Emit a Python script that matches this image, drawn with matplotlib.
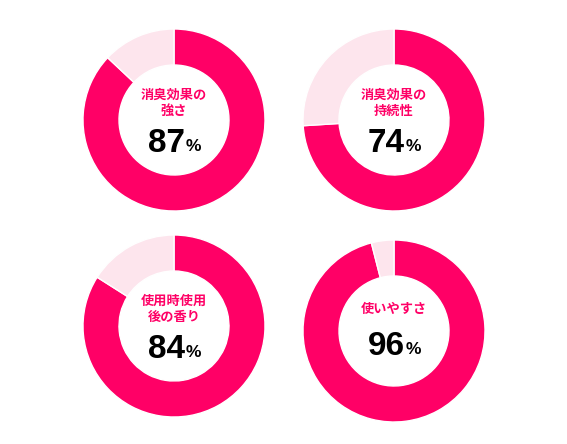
import matplotlib.pyplot as plt

plt.rcParams['font.family'] = ['Noto Sans CJK JP', 'DejaVu Sans']

# Data
labels = ["消臭効果の\n強さ", "消臭効果の\n持続性", "使用時使用\n後の香り", "使いやすさ"]
values = [87, 74, 84, 96]

# layout (pixel coords in a 567x444 canvas, y downwards)
centers = [(174, 120), (394, 120), (174, 326), (394, 331)]
radius = 91
ring_width = 36

pink = "#FF0066"
light = "#FDE5ED"

fig = plt.figure(figsize=(5.67, 4.44), dpi=100)
ax = fig.add_axes([0, 0, 1, 1])

for (cx, cy), label, v in zip(centers, labels, values):
    # y axis is inverted, so angles are mirrored: start at -90, go counterclockwise
    ax.pie([v, 100 - v], colors=[pink, light], startangle=-90, counterclock=True,
           center=(cx, cy), radius=radius,
           wedgeprops=dict(width=ring_width, edgecolor="white", linewidth=1))
    two_line = "\n" in label
    ly = cy - 17 if two_line else cy - 22
    ax.text(cx, ly, label, ha="center", va="center", color=pink,
            fontsize=9.5, fontweight="bold", linespacing=1.25)
    ny = cy + 23 if two_line else cy + 15
    ax.text(cx + 11, ny, str(v), ha="right", va="center", color="black",
            fontsize=24, fontweight="bold", family="Liberation Sans")
    ax.text(cx + 12, ny + 3, "%", ha="left", va="center", color="black",
            fontsize=12.5, fontweight="bold", family="Liberation Sans")

ax.set_xlim(0, 567)
ax.set_ylim(444, 0)
ax.set_aspect("equal")
ax.axis("off")

fig.savefig("out.png", dpi=100, facecolor="white")
